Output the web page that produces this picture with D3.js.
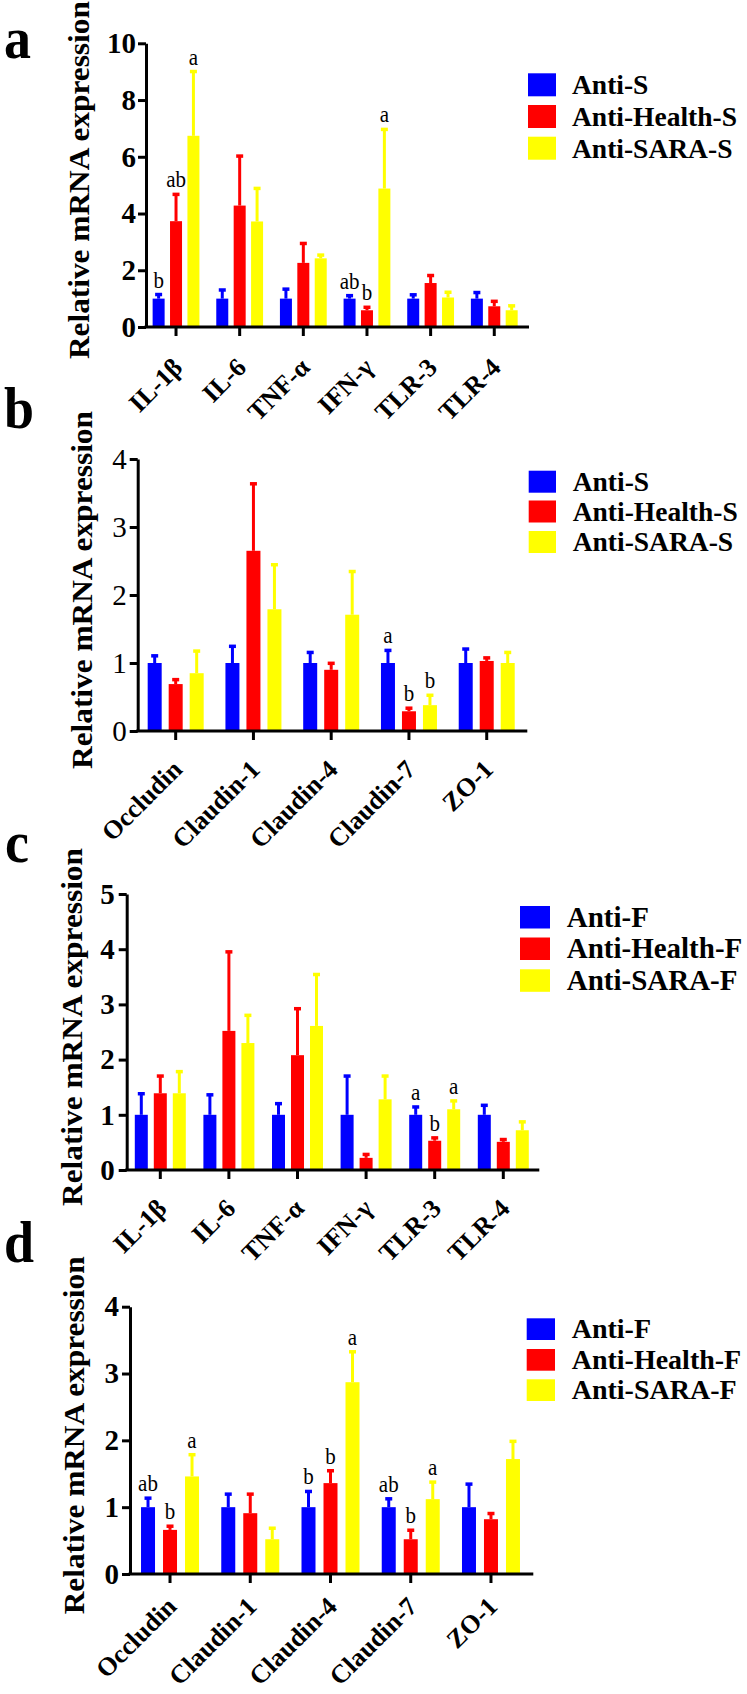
<!DOCTYPE html>
<html><head><meta charset="utf-8">
<script src="https://cdn.jsdelivr.net/npm/d3@7"></script>
<style>
html,body{margin:0;padding:0;background:#fff;}
svg{display:block;}
text{font-family:"Liberation Serif","Times New Roman",Tinos,"DejaVu Serif","Noto Serif",serif;}
</style></head>
<body><svg id="chart" width="747" height="1694"></svg>
<script>
// ---------- categories & groups ----------
const cytokines = ["IL-1β","IL-6","TNF-α","IFN-γ","TLR-3","TLR-4"];
const junctions = ["Occludin","Claudin-1","Claudin-4","Claudin-7","ZO-1"];
const groupsS = ["Anti-S","Anti-Health-S","Anti-SARA-S"];
const groupsF = ["Anti-F","Anti-Health-F","Anti-SARA-F"];
const groupColors = ["#0000FF","#FF0000","#FFFF00"];

// ---------- panel a ----------
const aMean_AntiS   = [1.00,1.00,1.00,1.00,1.00,1.00];
const aErr_AntiS    = [0.18,0.34,0.37,0.14,0.17,0.25];
const aMean_HealthS = [3.73,4.28,2.26,0.59,1.55,0.73];
const aErr_HealthS  = [0.98,1.78,0.72,0.14,0.30,0.21];
const aMean_SARAS   = [6.74,3.72,2.42,4.88,1.04,0.59];
const aErr_SARAS    = [2.30,1.20,0.15,2.12,0.22,0.19];
const aSig_AntiS    = ["b","","","ab","",""];
const aSig_HealthS  = ["ab","","","b","",""];
const aSig_SARAS    = ["a","","","a","",""];
const aTicks = [0,2,4,6,8,10];

// ---------- panel b ----------
const bMean_AntiS   = [1.00,1.00,1.00,1.00,1.00];
const bErr_AntiS    = [0.12,0.26,0.17,0.20,0.22];
const bMean_HealthS = [0.69,2.65,0.90,0.29,1.03];
const bErr_HealthS  = [0.08,1.00,0.11,0.06,0.06];
const bMean_SARAS   = [0.85,1.79,1.71,0.38,1.00];
const bErr_SARAS    = [0.34,0.67,0.65,0.16,0.17];
const bSig_AntiS    = ["","","","a",""];
const bSig_HealthS  = ["","","","b",""];
const bSig_SARAS    = ["","","","b",""];
const bTicks = [0,1,2,3,4];

// ---------- panel c ----------
const cMean_AntiF   = [1.00,1.00,1.00,1.00,1.00,1.00];
const cErr_AntiF    = [0.40,0.38,0.22,0.72,0.16,0.19];
const cMean_HealthF = [1.39,2.52,2.08,0.22,0.53,0.51];
const cErr_HealthF  = [0.33,1.45,0.86,0.08,0.07,0.06];
const cMean_SARAF   = [1.39,2.30,2.61,1.28,1.10,0.72];
const cErr_SARAF    = [0.41,0.52,0.95,0.44,0.17,0.17];
const cSig_AntiF    = ["","","","","a",""];
const cSig_HealthF  = ["","","","","b",""];
const cSig_SARAF    = ["","","","","a",""];
const cTicks = [0,1,2,3,4,5];

// ---------- panel d ----------
const dMean_AntiF   = [1.00,1.00,1.00,1.00,1.00];
const dErr_AntiF    = [0.15,0.21,0.25,0.14,0.36];
const dMean_HealthF = [0.66,0.91,1.36,0.52,0.82];
const dErr_HealthF  = [0.07,0.30,0.20,0.15,0.10];
const dMean_SARAF   = [1.46,0.52,2.87,1.12,1.72];
const dErr_SARAF    = [0.34,0.18,0.47,0.27,0.28];
const dSig_AntiF    = ["ab","","b","ab",""];
const dSig_HealthF  = ["b","","b","b",""];
const dSig_SARAF    = ["a","","a","a",""];
const dTicks = [0,1,2,3,4];

const yTitle = "Relative mRNA expression";
const SY = 1.1; // vertical stretch of the original figure's lettering
const FONT = '"Liberation Serif","Times New Roman",Tinos,"DejaVu Serif","Noto Serif",serif';

// ---------- layout (positions / styles only) ----------
const panels = [
  {label:"a", cats:cytokines, groups:groupsS,
   means:[aMean_AntiS,aMean_HealthS,aMean_SARAS], errs:[aErr_AntiS,aErr_HealthS,aErr_SARAS],
   sigs:[aSig_AntiS,aSig_HealthS,aSig_SARAS], ticks:aTicks, boldTicks:true,
   axisX:146, axisEnd:529, y0:327, yTop:43.3, xr:[144.2,526.1], bw:12, step:17.4,
   titleX:89, tickPad:2, lab:[4,58], xlab:[8,42],
   leg:{x:528, w:28, h:23, ys:[73.3,105,136.7], tx:572, fs:27.5}},
  {label:"b", cats:junctions, groups:groupsS,
   means:[bMean_AntiS,bMean_HealthS,bMean_SARAS], errs:[bErr_AntiS,bErr_HealthS,bErr_SARAS],
   sigs:[bSig_AntiS,bSig_HealthS,bSig_SARAS], ticks:bTicks, boldTicks:false,
   axisX:137.7, axisEnd:527.3, y0:731, yTop:459, xr:[136.8,525.6], bw:14, step:21,
   titleX:92, tickPad:3, lab:[4,428], xlab:[8,40],
   leg:{x:528.7, w:27.3, h:22, ys:[470.7,500.5,531], tx:572.7, fs:27.5}},
  {label:"c", cats:cytokines, groups:groupsF,
   means:[cMean_AntiF,cMean_HealthF,cMean_SARAF], errs:[cErr_AntiF,cErr_HealthF,cErr_SARAF],
   sigs:[cSig_AntiF,cSig_HealthF,cSig_SARAF], ticks:cTicks, boldTicks:true,
   axisX:126.7, axisEnd:539.3, y0:1170, yTop:894, xr:[126,537.6], bw:13, step:19,
   titleX:82, tickPad:4, lab:[5,862], xlab:[8,40],
   leg:{x:520, w:30, h:22.5, ys:[906,937.5,969.3], tx:566.7, fs:29}},
  {label:"d", cats:junctions, groups:groupsF,
   means:[dMean_AntiF,dMean_HealthF,dMean_SARAF], errs:[dErr_AntiF,dErr_HealthF,dErr_SARAF],
   sigs:[dSig_AntiF,dSig_HealthF,dSig_SARAF], ticks:dTicks, boldTicks:true,
   axisX:130, axisEnd:533.3, y0:1574, yTop:1306.7, xr:[129.9,531.1], bw:14, step:22,
   titleX:84, tickPad:3, lab:[4,1262], xlab:[8,34],
   leg:{x:526.7, w:28.3, h:21.7, ys:[1318.3,1349,1379.3], tx:571.7, fs:28}}
];

const svg = d3.select("#chart");

panels.forEach(p => {
  const g = svg.append("g");
  const yMax = d3.max(p.ticks);
  const y = d3.scaleLinear().domain([0, yMax]).range([p.y0, p.yTop]);
  const x = d3.scaleBand().domain(p.cats).range(p.xr).padding(0);
  const pin = 1 - p.bw / p.step;
  const iw = p.step * (3 - pin);
  const xi = d3.scaleBand().domain(p.groups).range([-iw/2, iw/2]).paddingInner(pin).paddingOuter(0);

  // bars, error bars, letters
  p.groups.forEach((grp, j) => {
    const rows = p.cats.map((c, i) => ({c, m:p.means[j][i], e:p.errs[j][i], s:p.sigs[j][i]}));
    const gg = g.append("g");
    const cx = d => x(d.c) + x.bandwidth()/2 + xi(grp) + xi.bandwidth()/2;
    gg.selectAll("rect.bar").data(rows).join("rect")
      .attr("class","bar")
      .attr("x", d => x(d.c) + x.bandwidth()/2 + xi(grp))
      .attr("width", xi.bandwidth())
      .attr("y", d => y(d.m))
      .attr("height", d => y(0) - y(d.m))
      .attr("fill", groupColors[j]);
    gg.selectAll("line.err").data(rows).join("line")
      .attr("class","err")
      .attr("x1", cx).attr("x2", cx)
      .attr("y1", d => y(d.m)).attr("y2", d => y(d.m + d.e))
      .attr("stroke", groupColors[j]).attr("stroke-width", 3);
    gg.selectAll("line.cap").data(rows).join("line")
      .attr("class","cap")
      .attr("x1", d => cx(d) - 3.5).attr("x2", d => cx(d) + 3.5)
      .attr("y1", d => y(d.m + d.e) + 1).attr("y2", d => y(d.m + d.e) + 1)
      .attr("stroke", groupColors[j]).attr("stroke-width", 3.5);
    gg.selectAll("text.sig").data(rows.filter(d => d.s)).join("text")
      .attr("class","sig")
      .attr("transform", d => `translate(${cx(d)},${y(d.m + d.e) - 6}) scale(1,${SY})`)
      .attr("text-anchor","middle")
      .style("font-family", FONT)
      .style("font-size","21px")
      .text(d => d.s);
  });

  // y axis
  const ya = g.append("g").attr("transform", `translate(${p.axisX},0)`)
    .call(d3.axisLeft(y).tickValues(p.ticks).tickFormat(d3.format("d"))
      .tickSize(8).tickSizeOuter(0).tickPadding(p.tickPad));
  ya.attr("font-family", null);
  ya.select(".domain").attr("stroke","#000").attr("stroke-width",3);
  ya.selectAll(".tick line").attr("stroke","#000").attr("stroke-width",3);
  ya.selectAll(".tick text")
    .style("font-family", FONT)
    .style("font-size","29px")
    .style("font-weight", p.boldTicks ? "bold" : "normal")
    .attr("fill","#000");

  // x axis
  const xa = g.append("g").attr("transform", `translate(0,${p.y0})`)
    .call(d3.axisBottom(x).tickSize(9).tickSizeOuter(0));
  xa.attr("font-family", null);
  xa.select(".domain").remove();
  xa.selectAll(".tick line").attr("stroke","#000").attr("stroke-width",3);
  xa.selectAll(".tick text")
    .attr("x",0).attr("y",0).attr("dy",0)
    .attr("transform", `translate(${p.xlab[0]},${p.xlab[1]}) rotate(-45)`)
    .style("text-anchor","end")
    .style("font-family", FONT)
    .style("font-size","26px").style("font-weight","bold")
    .attr("fill","#000");
  g.append("line")
    .attr("x1", p.axisX - 1.5).attr("x2", p.axisEnd)
    .attr("y1", p.y0).attr("y2", p.y0)
    .attr("stroke","#000").attr("stroke-width",3);

  // y title
  g.append("text")
    .attr("transform", `translate(${p.titleX},${(p.y0 + p.yTop)/2 - 5}) scale(1,${SY}) rotate(-90)`)
    .attr("text-anchor","middle")
    .style("font-family", FONT)
    .style("font-size","28.5px").style("font-weight","bold")
    .text(yTitle);

  // panel letter
  g.append("text")
    .attr("transform", `translate(${p.lab[0]},${p.lab[1]}) scale(1,${SY})`)
    .style("font-family", FONT)
    .style("font-size","54px").style("font-weight","bold")
    .text(p.label);

  // legend
  const lg = g.append("g");
  lg.selectAll("rect").data(p.groups).join("rect")
    .attr("x", p.leg.x).attr("y", (d,i) => p.leg.ys[i])
    .attr("width", p.leg.w).attr("height", p.leg.h)
    .attr("fill", (d,i) => groupColors[i]);
  lg.selectAll("text").data(p.groups).join("text")
    .attr("x", p.leg.tx).attr("y", (d,i) => p.leg.ys[i] + p.leg.h - 2)
    .style("font-family", FONT)
    .style("font-size", p.leg.fs + "px").style("font-weight","bold")
    .text(d => d);
});
</script>
</body></html>
